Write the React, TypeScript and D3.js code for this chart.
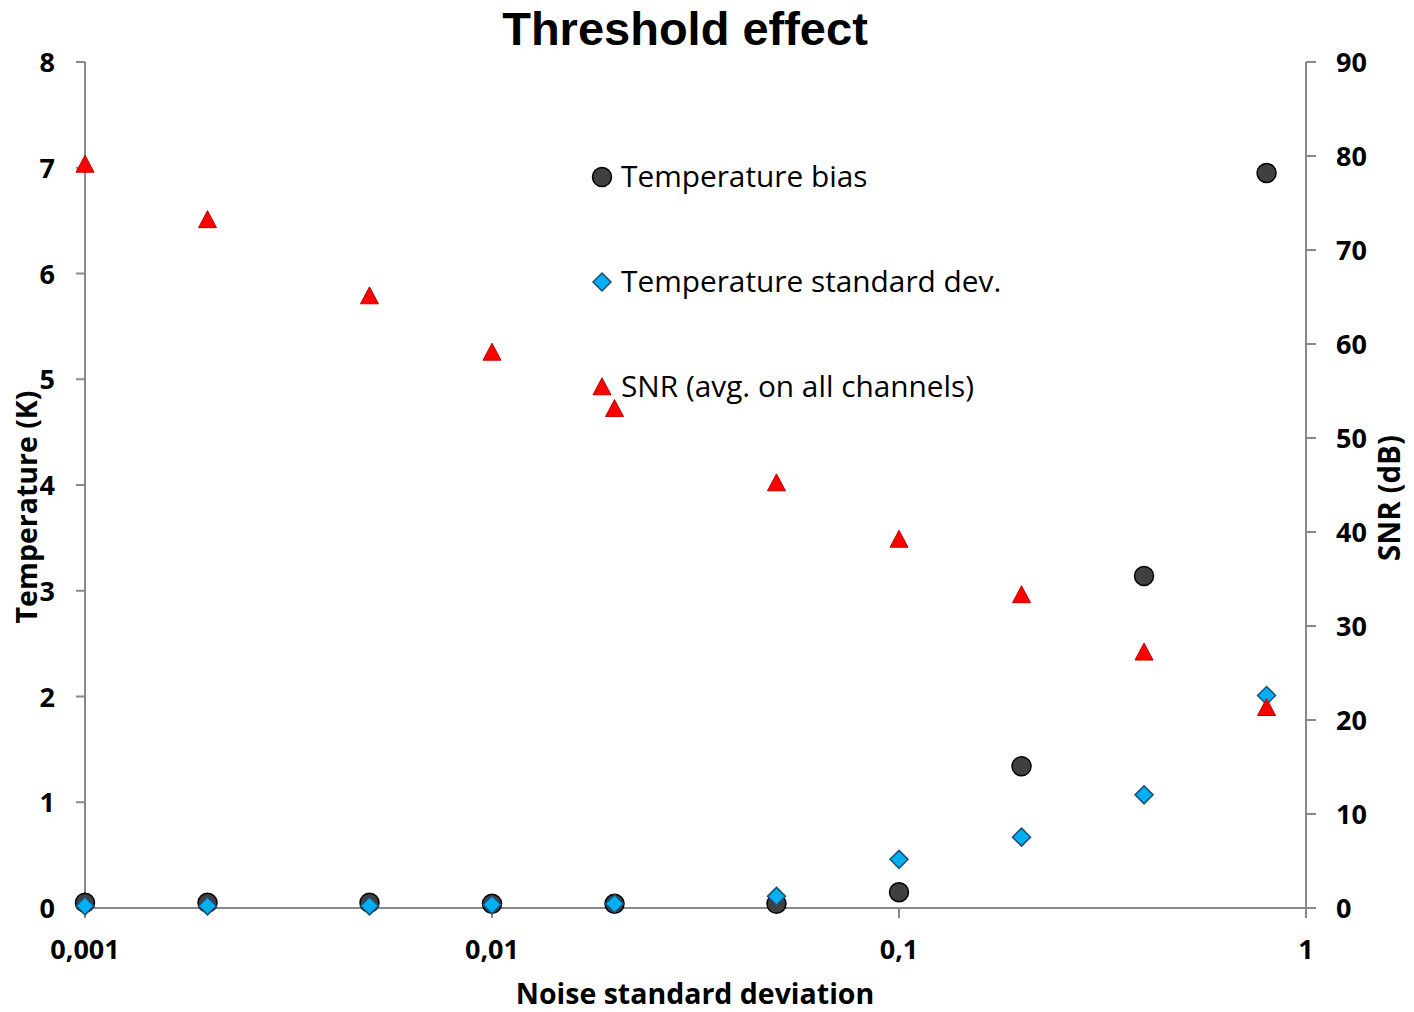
import React from "react";
import * as d3 from "d3";

const noiseStd = [0.001, 0.002, 0.005, 0.01, 0.02, 0.05, 0.1, 0.2, 0.4, 0.8];
const tempBias = [0.05, 0.05, 0.05, 0.04, 0.04, 0.04, 0.15, 1.34, 3.14, 6.95];
const tempStd = [0.02, 0.02, 0.02, 0.03, 0.04, 0.11, 0.46, 0.67, 1.07, 2.01];
const snr = [79.0, 73.1, 65.0, 59.0, 53.0, 45.1, 39.1, 33.2, 27.1, 21.2];
const xTicks = [0.001, 0.01, 0.1, 1];
const xTickLabels = ["0,001", "0,01", "0,1", "1"];
const leftTicks = [0, 1, 2, 3, 4, 5, 6, 7, 8];
const rightTicks = [0, 10, 20, 30, 40, 50, 60, 70, 80, 90];
const legendLabels = ["Temperature bias", "Temperature standard dev.", "SNR (avg. on all channels)"];

const W = 1414, H = 1012;
const L = 85, R = 1306, T = 62, B = 908;
const axisColor = "#898989";
const labelFont = "'Open Sans', 'DejaVu Sans', sans-serif";

function Circle({ x, y }: { x: number; y: number }) {
  return <circle cx={x} cy={y} r={9.5} fill="#404040" stroke="#000" strokeWidth={1.5} />;
}
function Diamond({ x, y }: { x: number; y: number }) {
  const s = 9;
  return <path d={`M${x},${y - s}L${x + s},${y}L${x},${y + s}L${x - s},${y}Z`} fill="#00b0f0" stroke="#1f4e79" strokeWidth={1.5} />;
}
function Tri({ x, y }: { x: number; y: number }) {
  const hw = 9, h = 17;
  return <path d={`M${x},${y - h * 0.6}L${x + hw},${y + h * 0.4}L${x - hw},${y + h * 0.4}Z`} fill="#ff0000" stroke="#c00000" strokeWidth={1} />;
}

export default function App() {
  const x = d3.scaleLog().domain([0.001, 1]).range([L, R]);
  const yL = d3.scaleLinear().domain([0, 8]).range([B, T]);
  const yR = d3.scaleLinear().domain([0, 90]).range([B, T]);

  return (
    <svg width={W} height={H} style={{ position: "absolute", left: 0, top: 0, background: "#fff" }}>
      <rect width={W} height={H} fill="#fff" />
      <text x={685} y={45} textAnchor="middle" fontFamily="'Liberation Sans', Arial, sans-serif" fontWeight="bold" fontSize={47}>Threshold effect</text>

      {/* axes */}
      <line x1={L} y1={T} x2={L} y2={B} stroke={axisColor} strokeWidth={2} />
      <line x1={R} y1={T} x2={R} y2={B + 10} stroke={axisColor} strokeWidth={2} />
      <line x1={L} y1={B} x2={R} y2={B} stroke={axisColor} strokeWidth={2} />
      {leftTicks.map((t) => (
        <g key={"l" + t}>
          <line x1={L - 9} x2={L} y1={yL(t)} y2={yL(t)} stroke={axisColor} strokeWidth={2} />
          <text x={55} y={yL(t) + 10} textAnchor="end" fontFamily={labelFont} fontWeight="bold" fontSize={27}>{t}</text>
        </g>
      ))}
      {rightTicks.map((t) => (
        <g key={"r" + t}>
          <line x1={R} x2={R + 10} y1={yR(t)} y2={yR(t)} stroke={axisColor} strokeWidth={2} />
          <text x={1336} y={yR(t) + 10} textAnchor="start" fontFamily={labelFont} fontWeight="bold" fontSize={27}>{t}</text>
        </g>
      ))}
      {xTicks.map((t, i) => (
        <g key={"x" + t}>
          <line x1={x(t)} x2={x(t)} y1={B} y2={B + 10} stroke={axisColor} strokeWidth={2} />
          <text x={x(t)} y={959} textAnchor="middle" fontFamily={labelFont} fontWeight="bold" fontSize={27}>{xTickLabels[i]}</text>
        </g>
      ))}

      <text x={695} y={1004} textAnchor="middle" fontFamily={labelFont} fontWeight="bold" fontSize={28.5}>Noise standard deviation</text>
      <text transform="translate(37,507) rotate(-90)" textAnchor="middle" fontFamily={labelFont} fontWeight="bold" fontSize={28.5}>Temperature (K)</text>
      <text transform="translate(1400,498) rotate(-90)" textAnchor="middle" fontFamily={labelFont} fontWeight="bold" fontSize={29.5}>SNR (dB)</text>

      {/* data */}
      {noiseStd.map((n, i) => <Circle key={"c" + i} x={x(n)} y={yL(tempBias[i])} />)}
      {noiseStd.map((n, i) => <Diamond key={"d" + i} x={x(n)} y={yL(tempStd[i])} />)}
      {noiseStd.map((n, i) => <Tri key={"t" + i} x={x(n)} y={yR(snr[i])} />)}

      {/* legend */}
      <Circle x={602} y={177} />
      <Diamond x={602} y={282} />
      <Tri x={602} y={388} />
      {legendLabels.map((s, i) => (
        <text key={s} x={621} y={187 + i * 105} fontFamily={labelFont} fontSize={29.8}>{s}</text>
      ))}
    </svg>
  );
}
